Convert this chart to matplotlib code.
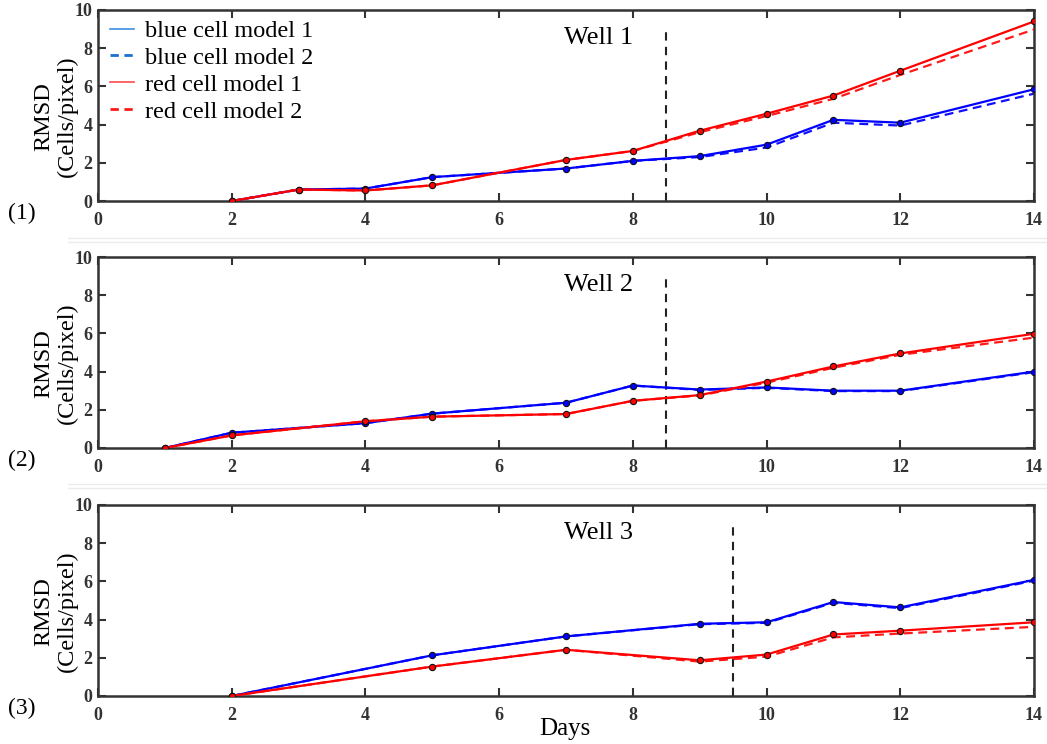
import matplotlib
matplotlib.use("Agg")
import matplotlib.pyplot as plt
from matplotlib.lines import Line2D

plt.rcParams['font.family'] = ['Liberation Serif', 'DejaVu Serif']

# Well 1
w1_days = [2, 3, 4, 5, 7, 8, 9, 10, 11, 12, 14]
w1_blue_m1 = [0.0, 0.6, 0.65, 1.25, 1.7, 2.1, 2.35, 2.95, 4.25, 4.1, 5.85]
w1_blue_m2 = [0.0, 0.6, 0.65, 1.25, 1.7, 2.1, 2.3, 2.8, 4.1, 3.95, 5.62]
w1_red_m1 = [0.0, 0.6, 0.55, 0.82, 2.15, 2.62, 3.68, 4.57, 5.52, 6.82, 9.4]
w1_red_m2 = [0.0, 0.6, 0.55, 0.82, 2.15, 2.62, 3.6, 4.45, 5.35, 6.6, 8.98]

# Well 2
w2_days = [1, 2, 4, 5, 7, 8, 9, 10, 11, 12, 14]
w2_blue_m1 = [0.0, 0.8, 1.3, 1.8, 2.37, 3.27, 3.06, 3.17, 3.0, 3.0, 4.0]
w2_blue_m2 = [0.0, 0.8, 1.3, 1.8, 2.37, 3.27, 3.04, 3.15, 2.98, 2.98, 3.97]
w2_red_m1 = [0.0, 0.66, 1.4, 1.64, 1.78, 2.47, 2.77, 3.48, 4.27, 4.95, 5.98]
w2_red_m2 = [0.0, 0.66, 1.4, 1.64, 1.78, 2.47, 2.75, 3.42, 4.2, 4.88, 5.78]

# Well 3
w3_days = [2, 5, 7, 9, 10, 11, 12, 14]
w3_blue_m1 = [0.0, 2.13, 3.12, 3.78, 3.86, 4.92, 4.64, 6.08]
w3_blue_m2 = [0.0, 2.13, 3.12, 3.76, 3.83, 4.88, 4.6, 6.04]
w3_red_m1 = [0.0, 1.54, 2.42, 1.87, 2.17, 3.22, 3.42, 3.86]
w3_red_m2 = [0.0, 1.54, 2.42, 1.8, 2.06, 3.07, 3.27, 3.62]

wells = ["Well 1", "Well 2", "Well 3"]
panel_tags = ["(1)", "(2)", "(3)"]
split_days = [8.5, 8.5, 9.5]
x_ticks = [0, 2, 4, 6, 8, 10, 12, 14]
y_ticks = [0, 2, 4, 6, 8, 10]
legend_labels = ["blue cell model 1", "blue cell model 2", "red cell model 1", "red cell model 2"]

data = [
    (w1_days, w1_blue_m1, w1_blue_m2, w1_red_m1, w1_red_m2),
    (w2_days, w2_blue_m1, w2_blue_m2, w2_red_m1, w2_red_m2),
    (w3_days, w3_blue_m1, w3_blue_m2, w3_red_m1, w3_red_m2),
]

W, H = 1047, 744
fig = plt.figure(figsize=(W / 100, H / 100), dpi=100)
ax_left_px, ax_right_px = 98, 1034
panel_px = [(10, 201), (257, 448), (505, 696)]  # (top, bottom) in pixels
spine_col = '#333333'

for i, (days, b1, b2, r1, r2) in enumerate(data):
    top, bot = panel_px[i]
    ax = fig.add_axes([ax_left_px / W, 1 - bot / H,
                       (ax_right_px - ax_left_px) / W, (bot - top) / H])
    ax.plot(days, b2, color='#1010ff', lw=1.6, ls=(0, (4, 2.5)), zorder=2)
    ax.plot(days, b1, color='#0000ff', lw=1.6, zorder=3,
            marker='o', ms=4.5, mfc='#0000ff', mec='#111111', mew=0.8)
    ax.plot(days, r2, color='#ff1a1a', lw=1.6, ls=(0, (4, 2.5)), zorder=4)
    ax.plot(days, r1, color='#ff0000', lw=1.6, zorder=5,
            marker='o', ms=4.5, mfc='#ff0000', mec='#111111', mew=0.8)
    ax.plot([split_days[i], split_days[i]], [0, 9.05], color='#222222',
            lw=1.5, ls=(0, (4, 3)), zorder=1)
    ax.set_xlim(0, 14)
    ax.set_ylim(0, 10)
    ax.set_xticks(x_ticks)
    ax.set_yticks(y_ticks)
    ax.tick_params(direction='in', top=True, right=True, length=6, width=1.5,
                   color=spine_col, labelsize=13)
    ax.tick_params(axis='x', pad=8)
    ax.tick_params(axis='y', pad=4)
    for lab in ax.get_xticklabels() + ax.get_yticklabels():
        lab.set_fontweight('bold')
        lab.set_color('#333333')
    for s in ax.spines.values():
        s.set_linewidth(1.8)
        s.set_color(spine_col)
    ax.text(6.97, 8.55, wells[i], fontsize=19, ha='left', va='center')

    mid = (top + bot) / 2 + 11
    fig.text(55.5 / W, 1 - mid / H, "RMSD\n(Cells/pixel)", fontsize=17.5,
             rotation=90, ha='center', va='center', multialignment='center',
             linespacing=1.1)
    fig.text(8 / W, 1 - (bot + 12) / H, panel_tags[i], fontsize=17,
             ha='left', va='center')
    if i == 0:
        handles = [
            Line2D([], [], color='#3a8fe0', lw=1.2),
            Line2D([], [], color='#1a70d0', lw=2.0, ls=(0, (3, 2))),
            Line2D([], [], color='#ff4a4a', lw=1.2),
            Line2D([], [], color='#ff1a1a', lw=2.0, ls=(0, (3, 2))),
        ]
        ax.legend(handles, legend_labels, loc='upper left', frameon=False,
                  fontsize=17.5, handlelength=1.0, handletextpad=0.45,
                  labelspacing=0.2, borderaxespad=0.0, borderpad=0.0,
                  bbox_to_anchor=((110 - ax_left_px) / (ax_right_px - ax_left_px),
                                  (bot - 20) / (bot - top)))

fig.text(565 / W, 1 - 729 / H, "Days", fontsize=18, ha='center', va='center')

# faint separators between the panels
for y in [238, 242, 484, 488]:
    fig.add_artist(Line2D([68 / W, 1.0], [1 - y / H, 1 - y / H],
                          color='#ebebeb', lw=1.0))

fig.savefig("out.png", dpi=100)
